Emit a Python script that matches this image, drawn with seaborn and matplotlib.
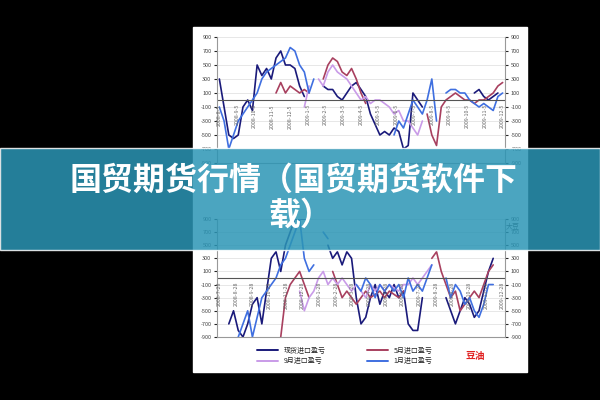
import numpy as np
import matplotlib
matplotlib.use("Agg")
import matplotlib.pyplot as plt
import seaborn as sns
from matplotlib.patches import Rectangle

sns.set_style("white")
plt.rcParams['font.family'] = ['Noto Sans CJK SC', 'DejaVu Sans']
plt.rcParams['axes.unicode_minus'] = False

n = None
# 61 positions along the date axis (roughly weekly), None = no data
top_spot = [300, -100, -500, -550, -500, -100, 0, -150, 500, 350,
            450, 300, 600, 700, 500, 500, 450, 200, 50, n,
            n, n, 200, 150, 150, 50, 0, 100, 200, 250,
            150, 50, -200, -350, -500, -450, -500, -400, -450, -700,
            -650, 100, 0, -100, n, n, n, n, n, n,
            n, n, n, n, 100, 150, 50, 0, 50, 100, n]
top_jan = [-100, -300, -700, -500, -300, -200, -100, 0, 100, 300,
           400, 450, 500, 550, 600, 750, 700, 500, 400, 100,
           300, n, n, n, n, n, n, n, n, n,
           n, n, n, n, n, n, n, -500, -300, -400,
           -200, 0, -100, -200, 0, 300, -300, n, 100, 150,
           150, 100, 100, 0, -50, -100, -50, -100, -150, 50, 100]
top_may = [n, n, n, n, n, n, n, n, n, n,
           n, n, 100, 250, 100, 200, 150, 100, 150, 100,
           n, n, 300, 500, 600, 550, 400, 350, 450, 300,
           100, -50, n, n, n, n, n, n, n, n,
           n, n, n, n, -200, -500, -650, -100, 0, 50,
           100, 50, 0, 0, -50, 0, 0, 50, 100, 200, 250]
top_sep = [n, n, n, n, n, n, n, n, n, n,
           n, n, n, n, n, n, n, n, -100, 200,
           n, 300, 200, 400, 500, 400, 350, 300, 200, 100,
           0, 50, -50, 0, 0, -50, -100, -200, -150, -300,
           -300, -400, -500, -300, n, n, n, n, n, n,
           n, n, n, n, n, n, n, n, n, n, n]

bot_spot = [n, n, -700, -500, -800, -900, -700, -400, -300, -700,
            -200, 300, 400, 100, 500, 700, 900, 900, 900, 900,
            n, n, n, 500, 300, 400, 200, 400, 300, -300,
            -700, -600, -300, -100, -400, -200, -300, -100, -300, -200,
            -700, -800, -800, -300, n, n, n, n, -300, -500,
            -700, -500, -300, -400, -600, -500, -200, 100, 300, n, n]
bot_jan = [n, n, n, n, -900, -700, -500, -900, -600, -300,
           -200, -100, 0, 200, 300, 500, 700, 900, 300, 100,
           200, n, 700, 600, n, n, n, n, n, -100,
           -200, 0, -100, -300, -100, -200, -100, -200, -100, -300,
           0, -200, -100, -200, 0, 200, n, n, 0, -300,
           -100, -200, -400, -300, -500, -600, -400, -100, -100, n, n]
bot_may = [n, n, n, n, n, n, n, n, n, n,
           n, n, n, -900, -300, -100, 0, 100, -100, -300,
           n, n, n, n, 100, -100, -300, -200, -300, -400,
           -300, -200, -300, -250, -200, -300, -200, -250, -300, -200,
           n, n, n, n, n, 300, 400, 100, -100, -300,
           -200, -500, -400, -300, -200, -300, -100, 100, 200, n, n]
bot_sep = [n, n, n, n, n, n, n, n, n, n,
           n, n, n, n, n, n, n, -200, -500, -300,
           -200, 0, 100, -100, 0, -100, 0, -100, -200, -100,
           -200, -300, -100, -200, -100, -200, -100, -150, -200, -100,
           -100, 0, -100, 0, 100, 200, n, n, n, n,
           n, n, n, n, n, n, n, n, n, n, n]

top_dates = ["2008-8-5", "2008-9-5", "2008-10-5", "2008-11-5", "2008-12-5", "2009-1-5",
             "2009-2-5", "2009-3-5", "2009-4-5", "2009-5-5", "2009-6-5", "2009-7-5",
             "2009-8-5", "2009-9-5", "2009-10-5", "2009-11-5", "2009-12-5"]
bot_dates = ["2008-7-28", "2008-8-28", "2008-9-28", "2008-10-28", "2008-11-28", "2008-12-28",
             "2009-1-28", "2009-2-28", "2009-3-28", "2009-4-28", "2009-5-28", "2009-6-28",
             "2009-7-28", "2009-8-28", "2009-9-28", "2009-10-28", "2009-11-28", "2009-12-28"]
yticks = list(range(-900, 901, 200))

names = ["现货进口盈亏", "5月进口盈亏", "9月进口盈亏", "1月进口盈亏"]
colors = ["#1a1a7a", "#a8405f", "#c99be8", "#3f6fe0"]

fig = plt.figure(figsize=(6, 4), dpi=100, facecolor="black")
fig.patches.append(Rectangle((193/600, 1-372/400), 334/600, 345/400,
                             transform=fig.transFigure, facecolor="white", zorder=-10))

x = np.arange(61)

def fmt(t):
    return str(t) if t >= 0 else "-" + str(-t)

def segments(s):
    # split a series at missing values so the gaps stay open
    seg = []
    for i, v in enumerate(s):
        if v is None:
            if seg:
                yield seg
            seg = []
        else:
            seg.append((i, v))
    if seg:
        yield seg

def panel(rect, series, dates):
    ax = fig.add_axes(rect)
    ax.set_facecolor("white")
    for s, c in zip(series, colors):
        for seg in segments(s):
            xs, ys = zip(*seg)
            sns.lineplot(x=list(xs), y=list(ys), ax=ax, color=c, lw=1.2)
    ax.set_xlim(-0.5, 60.5)
    ax.set_ylim(-900, 900)
    ax.set_yticks(yticks)
    ax.set_yticklabels([fmt(t) for t in yticks], fontsize=4, color="#444")
    ax.set_xticks([])
    ax.grid(axis="y", color="#dddddd", lw=0.5)
    ax.axhline(0, color="#555555", lw=0.8)
    for sp in ["top", "right"]:
        ax.spines[sp].set_visible(False)
    ax.spines["left"].set_color("#999")
    ax.spines["bottom"].set_color("#999")
    ax.tick_params(axis="y", length=2, pad=2)
    ax2 = ax.twinx()
    ax2.set_ylim(-900, 900)
    ax2.set_yticks(yticks)
    ax2.set_yticklabels([fmt(t) for t in yticks], fontsize=4, color="#444")
    ax2.tick_params(axis="y", length=2, pad=2)
    for sp in ["top", "left", "bottom"]:
        ax2.spines[sp].set_visible(False)
    ax2.spines["right"].set_color("#999")
    pos = np.linspace(0, 60, len(dates))
    for p, d in zip(pos, dates):
        ax.text(p, -60, d, rotation=90, fontsize=3.8, color="#666", ha="center", va="top")
    return ax

panel([217/600, 1-163/400, 288/600, 126/400], [top_spot, top_may, top_sep, top_jan], top_dates)
panel([217/600, 1-337/400, 288/600, 118/400], [bot_spot, bot_may, bot_sep, bot_jan], bot_dates)

handles = [plt.Line2D([], [], color=c, lw=1.4) for c in colors]
order = [0, 2, 1, 3]
fig.legend([handles[i] for i in order], [names[i] for i in order], ncol=2,
           loc="center", bbox_to_anchor=(345/600, 1-356/400), frameon=False,
           fontsize=5, columnspacing=6, handlelength=3, labelspacing=0.4)
fig.text(475/600, 1-356/400, "豆油", color="#e02020", fontsize=7, fontweight="bold", ha="center", va="center")
fig.text(513/600, 1-226/400, "大豆", color="#333", fontsize=5, ha="center", va="center")

# title banner
fig.patches.append(Rectangle((0, 1-250/400), 1, 102/400, transform=fig.transFigure,
                             facecolor="#2b95b5", alpha=0.85, zorder=5))
fig.text(0.49, 1-181/400, "国贸期货行情（国贸期货软件下", color="white", fontsize=23,
         fontweight="bold", ha="center", va="center", zorder=6)
fig.text(0.5, 1-216/400, "载）", color="white", fontsize=23,
         fontweight="bold", ha="center", va="center", zorder=6)

fig.savefig("out.png", dpi=100, facecolor="black")
